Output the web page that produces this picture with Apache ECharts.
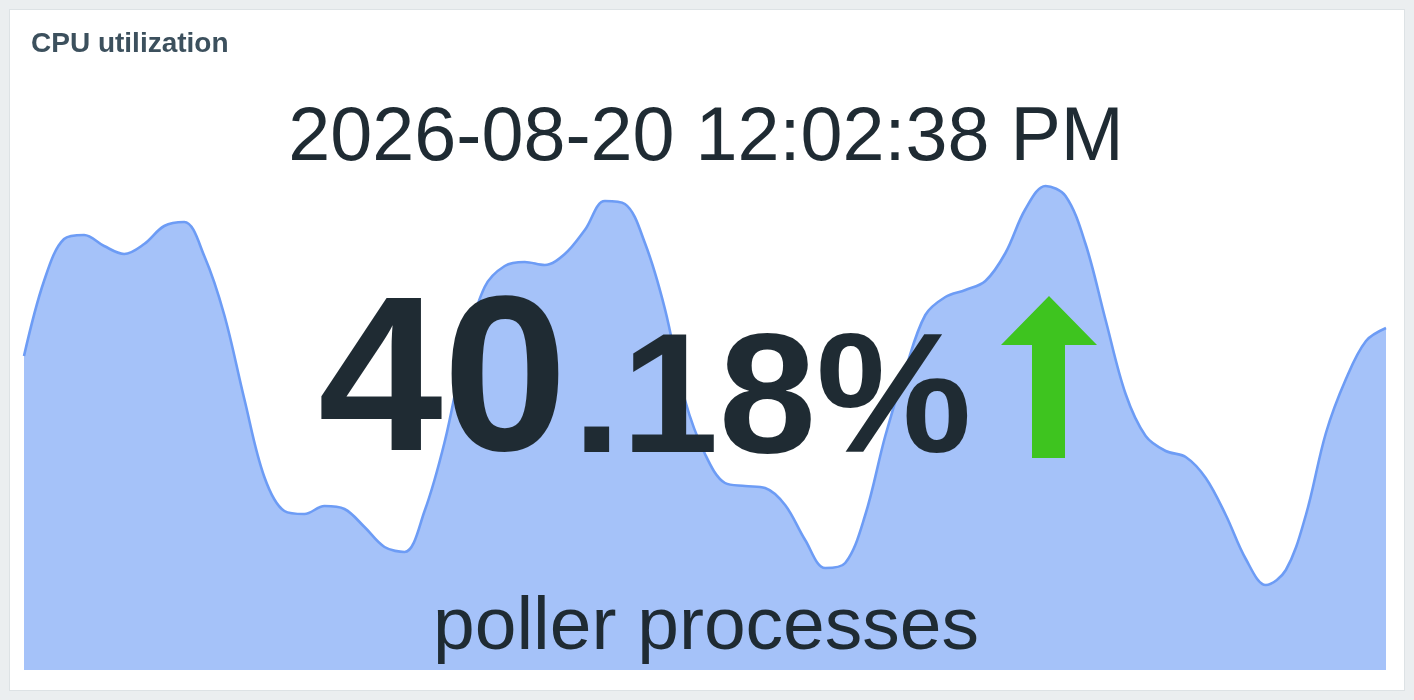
<!DOCTYPE html>
<html>
<head>
<meta charset="utf-8">
<script src="https://cdn.jsdelivr.net/npm/echarts@6/dist/echarts.min.js"></script>
<style>
  html, body { margin: 0; padding: 0; width: 1414px; height: 700px; background: #ebeef0; overflow: hidden; }
  #panel { position: absolute; left: 9px; top: 9px; width: 1394px; height: 680px; background: #ffffff; border: 1px solid #dde2e5; }
  #chart { position: absolute; left: 0; top: 0; width: 1414px; height: 700px; }
</style>
</head>
<body>
<div id="panel"></div>
<div id="chart"></div>
<script>
// ---- data ----
const widgetTitle = 'CPU utilization';
const timestampText = '2026-08-20 12:02:38 PM';
const valueInteger = '40';
const valueFraction = '.18';
const valueUnits = '%';
const descriptionText = 'poller processes';

// sparkline history (CPU utilization, %)
const cpuValues = [
  62.8, 77.8, 86.2, 87.0, 84.8, 83.2, 85.2, 88.8, 89.6, 82.8,
  71.0, 54.2, 38.6, 31.8, 31.2, 32.8, 32.2, 28.6, 24.6, 23.6,
  31.8, 45.6, 64.0, 76.6, 80.8, 81.6, 81.0, 83.2, 88.0, 93.8,
  93.2, 85.4, 72.2, 54.0, 43.2, 37.4, 36.8, 36.4, 33.0, 26.0,
  20.4, 21.4, 31.0, 46.8, 60.0, 71.0, 74.6, 76.0, 77.8, 83.4,
  92.2, 96.8, 94.8, 85.2, 70.0, 55.2, 46.8, 43.8, 42.6, 38.4,
  31.0, 22.2, 17.0, 20.0, 31.0, 47.4, 58.2, 65.8, 68.4
];
const timeLabels = [];
for (let i = 0; i < cpuValues.length; i++) {
  const m = i + 54; // one sample per minute
  const hh = 10 + Math.floor(m / 60);
  const mm = m % 60;
  timeLabels.push(String(hh).padStart(2, '0') + ':' + String(mm).padStart(2, '0'));
}

// ---- chart ----
const chart = echarts.init(document.getElementById('chart'), null, { renderer: 'canvas' });

const bigFont = 'bold 220px "Liberation Sans", Arial, sans-serif';
const bigScaleX = 1.02;
const ctx = document.createElement('canvas').getContext('2d');
ctx.font = bigFont;
const intWidth = ctx.measureText(valueInteger).width * bigScaleX;
const valueLeft = 318;

const textColor = '#1f2b33';

chart.setOption({
  backgroundColor: 'transparent',
  animation: false,
  grid: { left: 24, right: 28, top: 170, bottom: 30 },
  xAxis: { type: 'category', data: timeLabels, boundaryGap: false, show: false },
  yAxis: { type: 'value', min: 0, max: 100, show: false },
  series: [{
    type: 'line',
    data: cpuValues,
    smooth: 0.35,
    symbol: 'none',
    z: 1,
    lineStyle: { color: '#6d9cf5', width: 2.6 },
    areaStyle: { color: '#a5c2f9', opacity: 1 }
  }],
  graphic: [
    { type: 'text', x: 31, y: 44, z: 100,
      style: { text: widgetTitle, fill: '#3c505d', font: 'bold 28px "Liberation Sans", Arial, sans-serif', textAlign: 'left', verticalAlign: 'middle' } },
    { type: 'text', x: 706, y: 139.6, z: 100,
      style: { text: timestampText, fill: textColor, font: '75.5px "Liberation Sans", Arial, sans-serif', textAlign: 'center', verticalAlign: 'middle' } },
    { type: 'text', x: valueLeft, y: 389.8, scaleX: bigScaleX, z: 100,
      style: { text: valueInteger, fill: textColor, font: bigFont, textAlign: 'left', verticalAlign: 'middle' } },
    { type: 'text', x: valueLeft + intWidth + 5, y: 405.3, scaleX: 1.03, z: 100,
      style: { text: valueFraction + valueUnits, fill: textColor, font: 'bold 170px "Liberation Sans", Arial, sans-serif', textAlign: 'left', verticalAlign: 'middle' } },
    { type: 'polygon', z: 100,
      shape: { points: [[1049, 296], [1097, 345], [1065, 345], [1065, 458], [1032, 458], [1032, 345], [1001, 345]] },
      style: { fill: '#3ec41f' } },
    { type: 'text', x: 706, y: 628, z: 100,
      style: { text: descriptionText, fill: textColor, font: '75px "Liberation Sans", Arial, sans-serif', textAlign: 'center', verticalAlign: 'middle' } }
  ]
});
</script>
</body>
</html>
